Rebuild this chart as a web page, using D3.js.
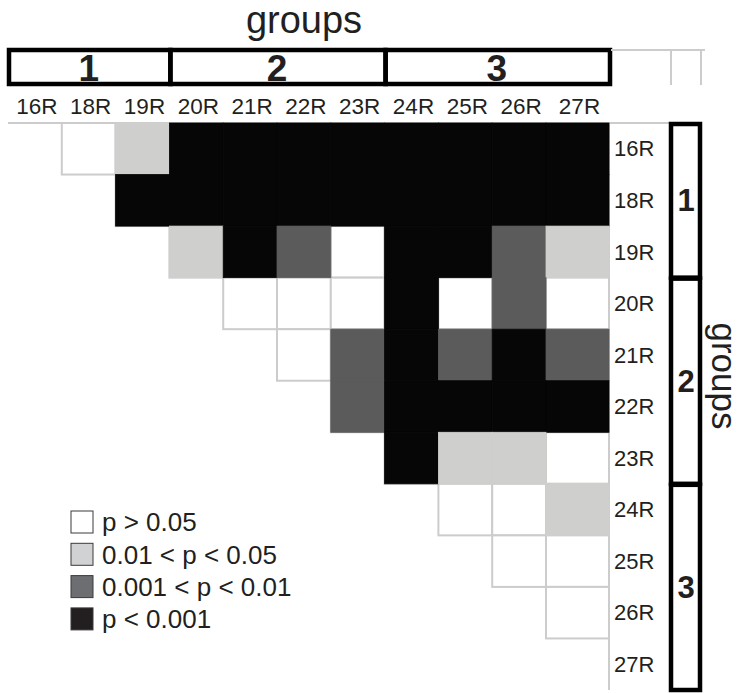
<!DOCTYPE html>
<html>
<head>
<meta charset="utf-8">
<script src="https://cdn.jsdelivr.net/npm/d3@7"></script>
<style>
  body { margin: 0; background: #fff; }
  text { font-family: "Liberation Sans", Arial, sans-serif; fill: #231f20; }
</style>
</head>
<body>
<svg width="744" height="693"></svg>
<script>
// strain labels (rows and columns)
var labels = ["16R", "18R", "19R", "20R", "21R", "22R", "23R", "24R", "25R", "26R", "27R"];

// significance level of each pair, row by row, columns after the diagonal
// 0: p > 0.05, 1: 0.01 < p < 0.05, 2: 0.001 < p < 0.01, 3: p < 0.001
var levels = [
  [0, 1, 3, 3, 3, 3, 3, 3, 3, 3],
  [3, 3, 3, 3, 3, 3, 3, 3, 3],
  [1, 3, 2, 0, 3, 3, 2, 1],
  [0, 0, 0, 3, 0, 2, 0],
  [0, 2, 3, 2, 3, 2],
  [2, 3, 3, 3, 3],
  [3, 1, 1, 0],
  [0, 0, 1],
  [0, 0],
  [0]
];

var groupNames = ["1", "2", "3"];
var groupStart = [0, 3, 7];
var groupEnd = [3, 7, 11];

var legendLabels = ["p > 0.05", "0.01 < p < 0.05", "0.001 < p < 0.01", "p < 0.001"];

var svg = d3.select("svg");

// scales: index -> pixel edge (last column is a bit wider)
var x = d3.scaleLinear().domain([0, 10, 11]).range([8, 546, 609]);
var y = d3.scaleLinear().domain([0, 11]).range([123, 690]);
var color = d3.scaleOrdinal().domain([0, 1, 2, 3]).range(["#ffffff", "#cfcfcd", "#5b5b5b", "#060606"]);
var legendColor = d3.scaleOrdinal().domain([0, 1, 2, 3]).range(["#ffffff", "#d1d2d4", "#6d6e71", "#231f20"]);

// flatten the triangle into cells
var cells = [];
levels.forEach(function(row, i) {
  row.forEach(function(v, k) {
    cells.push({ r: i, c: i + 1 + k, v: v });
  });
});

var grid = "#cccccc";

// white cells with light outline first
svg.append("g").selectAll("rect")
  .data(cells)
  .enter().append("rect")
  .attr("x", d => x(d.c))
  .attr("y", d => y(d.r))
  .attr("width", d => x(d.c + 1) - x(d.c))
  .attr("height", d => y(d.r + 1) - y(d.r))
  .attr("fill", "#fff")
  .attr("stroke", grid)
  .attr("stroke-width", 2);

// frame lines
svg.append("line").attr("x1", x(0)).attr("x2", 669).attr("y1", y(0)).attr("y2", y(0))
  .attr("stroke", grid).attr("stroke-width", 2);
svg.append("line").attr("x1", x(11)).attr("x2", x(11)).attr("y1", y(0)).attr("y2", y(11))
  .attr("stroke", grid).attr("stroke-width", 2);

// filled cells on top
svg.append("g").selectAll("rect")
  .data(cells.filter(d => d.v > 0))
  .enter().append("rect")
  .attr("x", d => x(d.c))
  .attr("y", d => y(d.r))
  .attr("width", d => x(d.c + 1) - x(d.c))
  .attr("height", d => y(d.r + 1) - y(d.r))
  .attr("fill", d => color(d.v))
  .attr("stroke", d => color(d.v))
  .attr("stroke-width", 0.8);

// column labels
svg.append("g").selectAll("text")
  .data(labels)
  .enter().append("text")
  .attr("x", (d, i) => (x(i) + x(i + 1)) / 2 + 2)
  .attr("y", 114)
  .attr("text-anchor", "middle")
  .style("font-size", "22.5px")
  .text(d => d);

// row labels
svg.append("g").selectAll("text")
  .data(labels)
  .enter().append("text")
  .attr("x", 614)
  .attr("y", (d, i) => (y(i) + y(i + 1)) / 2)
  .attr("dy", "0.35em")
  .style("font-size", "22px")
  .text(d => d);

// top groups box
var topG = svg.append("g");
topG.selectAll("rect")
  .data(groupNames)
  .enter().append("rect")
  .attr("x", (d, i) => x(groupStart[i]) + 1)
  .attr("y", 50)
  .attr("width", (d, i) => x(groupEnd[i]) - x(groupStart[i]))
  .attr("height", 34)
  .attr("fill", "none")
  .attr("stroke", "#000")
  .attr("stroke-width", 4.5);
topG.selectAll("text")
  .data(groupNames)
  .enter().append("text")
  .attr("x", (d, i) => (x(groupStart[i]) + x(groupEnd[i])) / 2)
  .attr("y", 68)
  .attr("dy", "0.36em")
  .attr("text-anchor", "middle")
  .style("font-size", "37px")
  .style("font-weight", "bold")
  .text(d => d);

// faint lines right of the top box
svg.append("path")
  .attr("d", "M611,50H705M671,50V85M701,50V85")
  .attr("fill", "none").attr("stroke", grid).attr("stroke-width", 2);

// right groups box
var rightG = svg.append("g");
rightG.selectAll("rect")
  .data(groupNames)
  .enter().append("rect")
  .attr("x", 671)
  .attr("y", (d, i) => y(groupStart[i]) + 1)
  .attr("width", 29)
  .attr("height", (d, i) => y(groupEnd[i]) - y(groupStart[i]) - 1)
  .attr("fill", "none")
  .attr("stroke", "#000")
  .attr("stroke-width", 4.5);
rightG.selectAll("text")
  .data(groupNames)
  .enter().append("text")
  .attr("x", 686)
  .attr("y", (d, i) => (y(groupStart[i]) + y(groupEnd[i])) / 2)
  .attr("dy", "0.36em")
  .attr("text-anchor", "middle")
  .style("font-size", "31px")
  .style("font-weight", "bold")
  .text(d => d);

// axis titles
svg.append("text")
  .attr("x", 304).attr("y", 33)
  .attr("text-anchor", "middle")
  .style("font-size", "38px")
  .text("groups");
svg.append("text")
  .attr("transform", "translate(712,376) rotate(90)")
  .attr("text-anchor", "middle")
  .style("font-size", "35px")
  .text("groups");

// legend
var legend = svg.append("g").attr("transform", "translate(71,511)");
var item = legend.selectAll("g")
  .data(legendLabels)
  .enter().append("g")
  .attr("transform", (d, i) => "translate(0," + (i * 32.3) + ")");
item.append("rect")
  .attr("width", 22).attr("height", 22)
  .attr("fill", (d, i) => legendColor(i))
  .attr("stroke", "#3a3a3a")
  .attr("stroke-width", 1);
item.append("text")
  .attr("x", 31).attr("y", 11)
  .attr("dy", "0.36em")
  .style("font-size", "26px")
  .text(d => d);
</script>
</body>
</html>
